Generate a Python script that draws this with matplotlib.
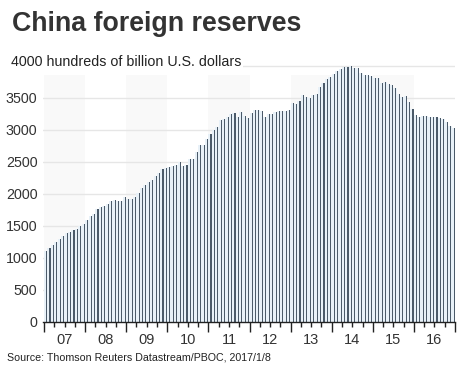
import numpy as np
import matplotlib
matplotlib.use('Agg')
import matplotlib.pyplot as plt

# monthly reserves, Jan 2007 - Dec 2016 (billion USD)
r2007 = [1104, 1158, 1202, 1246, 1292, 1333, 1385, 1408, 1434, 1455, 1497, 1528]
r2008 = [1590, 1647, 1682, 1757, 1797, 1809, 1845, 1884, 1906, 1880, 1885, 1946]
r2009 = [1913, 1912, 1954, 2009, 2089, 2132, 2175, 2211, 2273, 2328, 2388, 2399]
r2010 = [2415, 2425, 2447, 2491, 2440, 2454, 2538, 2548, 2648, 2760, 2768, 2847]
r2011 = [2932, 2991, 3045, 3145, 3166, 3197, 3245, 3263, 3202, 3274, 3221, 3181]
r2012 = [3254, 3309, 3305, 3299, 3206, 3240, 3240, 3273, 3285, 3288, 3297, 3312]
r2013 = [3410, 3395, 3443, 3535, 3515, 3497, 3548, 3553, 3663, 3736, 3790, 3821]
r2014 = [3866, 3914, 3948, 3981, 3984, 3993, 3966, 3969, 3888, 3853, 3847, 3843]
r2015 = [3813, 3802, 3730, 3748, 3711, 3694, 3651, 3557, 3514, 3526, 3438, 3330]
r2016 = [3231, 3202, 3213, 3220, 3192, 3205, 3201, 3185, 3166, 3121, 3052, 3030]
reserves = r2007 + r2008 + r2009 + r2010 + r2011 + r2012 + r2013 + r2014 + r2015 + r2016
year_labels = ['07', '08', '09', '10', '11', '12', '13', '14', '15', '16']
y_ticks = [0, 500, 1000, 1500, 2000, 2500, 3000, 3500]

plt.rcParams['font.family'] = ['Liberation Sans', 'DejaVu Sans']

W, H = 464, 370
fig = plt.figure(figsize=(W / 100, H / 100), dpi=100)
ax = fig.add_axes([43 / W, 48.3 / H, 412 / W, 262.4 / H])

x = np.arange(len(reserves))
vals = np.array(reserves)

# alternating year bands
for k in range(0, len(year_labels), 2):
    ax.fill_between([12 * k, 12 * k + 12], 0, 3855, color='#f9f9f9', lw=0, zorder=0)

for t in y_ticks[1:] + [4000]:
    ax.axhline(t, color='#e6e6e6', lw=1, zorder=1)

ax.bar(x, vals, width=1.0, align='edge', color='#e8f1f8', lw=0, zorder=2)
ax.bar(x + 0.75, vals, width=0.32, color='#4b5a69', lw=0, zorder=3)

ax.set_xlim(-0.3, 120)
ax.set_ylim(0, 4100)

for s in ['left', 'right', 'top']:
    ax.spines[s].set_visible(False)
ax.spines['bottom'].set_color('#222222')
ax.spines['bottom'].set_linewidth(1)
ax.spines['bottom'].set_zorder(5)

ax.set_xticks(np.arange(0, 121, 12))
ax.set_xticks(np.arange(0, 121, 3), minor=True)
ax.tick_params(axis='x', which='major', length=7, width=1, color='#222222', labelbottom=False)
ax.tick_params(axis='x', which='minor', length=3.5, width=1, color='#222222')
for i, lab in enumerate(year_labels):
    ax.text(12 * i + 6, -170, lab, ha='center', va='top', fontsize=10.5, color='#333333')

ax.set_yticks(y_ticks)
ax.set_yticklabels([str(t) for t in y_ticks])
ax.tick_params(axis='y', length=0, pad=4, labelsize=10.3, labelcolor='#333333')

fig.text(11 / W, 1 - 62 / H, '4000 hundreds of billion U.S. dollars', fontsize=10.3,
         color='#222222', va='center', ha='left',
         bbox=dict(facecolor='white', edgecolor='none', pad=1))
fig.text(12 / W, 1 - 24 / H, 'China foreign reserves', fontsize=19.3, fontweight='bold',
         color='#333333', va='center', ha='left')
fig.text(7 / W, 1 - 357 / H, 'Source: Thomson Reuters Datastream/PBOC, 2017/1/8', fontsize=7.7,
         color='#222222', va='center', ha='left')

fig.savefig('out.png', dpi=100, facecolor='white')
